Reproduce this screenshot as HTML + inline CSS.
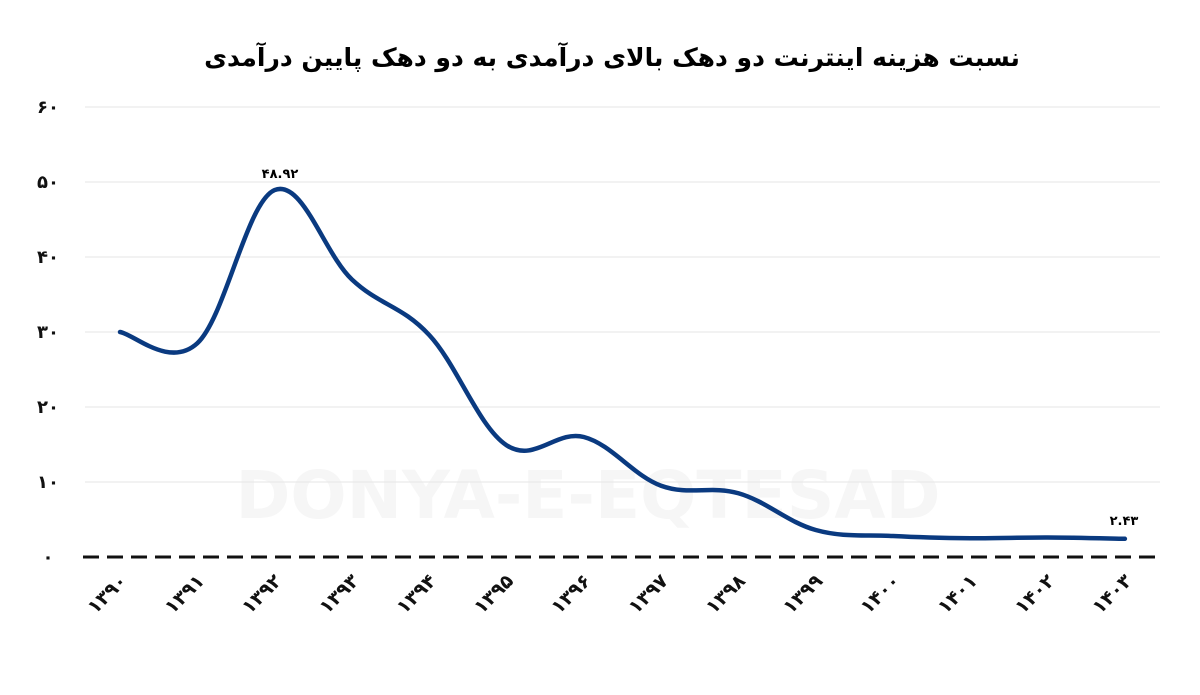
<!DOCTYPE html>
<html><head><meta charset="utf-8"><style>
body{margin:0;background:#fff;width:1200px;height:690px;overflow:hidden}
text{font-family:"DejaVu Sans","Liberation Sans",sans-serif;font-weight:bold}
</style></head><body>
<svg id="s" width="1200" height="690" xmlns="http://www.w3.org/2000/svg">
<text x="612" y="66" text-anchor="middle" font-size="25" direction="rtl">نسبت هزینه اینترنت دو دهک بالای درآمدی به دو دهک پایین درآمدی</text>
<text x="588" y="518" text-anchor="middle" font-size="66" fill="#f6f6f6" font-family="Liberation Sans" textLength="705" lengthAdjust="spacingAndGlyphs">DONYA-E-EQTESAD</text>
<g stroke="#e6e6e6" stroke-width="1">
<line x1="85" x2="1160" y1="107" y2="107"/><line x1="85" x2="1160" y1="182" y2="182"/>
<line x1="85" x2="1160" y1="257" y2="257"/><line x1="85" x2="1160" y1="332" y2="332"/>
<line x1="85" x2="1160" y1="407" y2="407"/><line x1="85" x2="1160" y1="482" y2="482"/>
</g>
<line x1="83" x2="1160" y1="557" y2="557" stroke="#111" stroke-width="3" stroke-dasharray="16 8"/>
<g font-size="18" text-anchor="middle" fill="#111">
<text x="48" y="113">۶۰</text><text x="48" y="188">۵۰</text><text x="48" y="263">۴۰</text>
<text x="48" y="338">۳۰</text><text x="48" y="413">۲۰</text><text x="48" y="488">۱۰</text><text x="48" y="563">۰</text>
</g>
<g id="xl" font-size="19" fill="#111" text-anchor="end"></g>
<path id="p" fill="none" stroke="#0a3a80" stroke-width="4.5" stroke-linecap="round"/>
<text x="280" y="178" font-size="13" text-anchor="middle">۴۸.۹۲</text>
<text x="1124" y="525" font-size="13" text-anchor="middle">۲.۴۳</text>
</svg>
<script>
var d=[30,28.5,48.92,37,29.6,14.9,16,9.5,8.5,3.6,2.8,2.5,2.6,2.43];
var pts=d.map(function(v,i){return [120+i*77.3,557-v*7.5]});
var s="M"+pts[0][0]+","+pts[0][1];
for(var i=0;i<pts.length-1;i++){var p0=pts[i-1]||pts[i],p1=pts[i],p2=pts[i+1],p3=pts[i+2]||p2;
var t=0.18;
s+=" C"+(p1[0]+(p2[0]-p0[0])*t)+","+(p1[1]+(p2[1]-p0[1])*t)+" "+(p2[0]-(p3[0]-p1[0])*t)+","+(p2[1]-(p3[1]-p1[1])*t)+" "+p2[0]+","+p2[1];}
document.getElementById("p").setAttribute("d",s);
var fa="۰۱۲۳۴۵۶۷۸۹",g=document.getElementById("xl"),h="";
for(var i=0;i<14;i++){var n=String(1390+i).split("").map(function(c){return fa[+c]}).join("");
var x=128+i*77.3;h+='<text x="'+x+'" y="582" transform="rotate(-45 '+x+' 582)">'+n+'</text>';}
g.innerHTML=h;
</script>
</body></html>
